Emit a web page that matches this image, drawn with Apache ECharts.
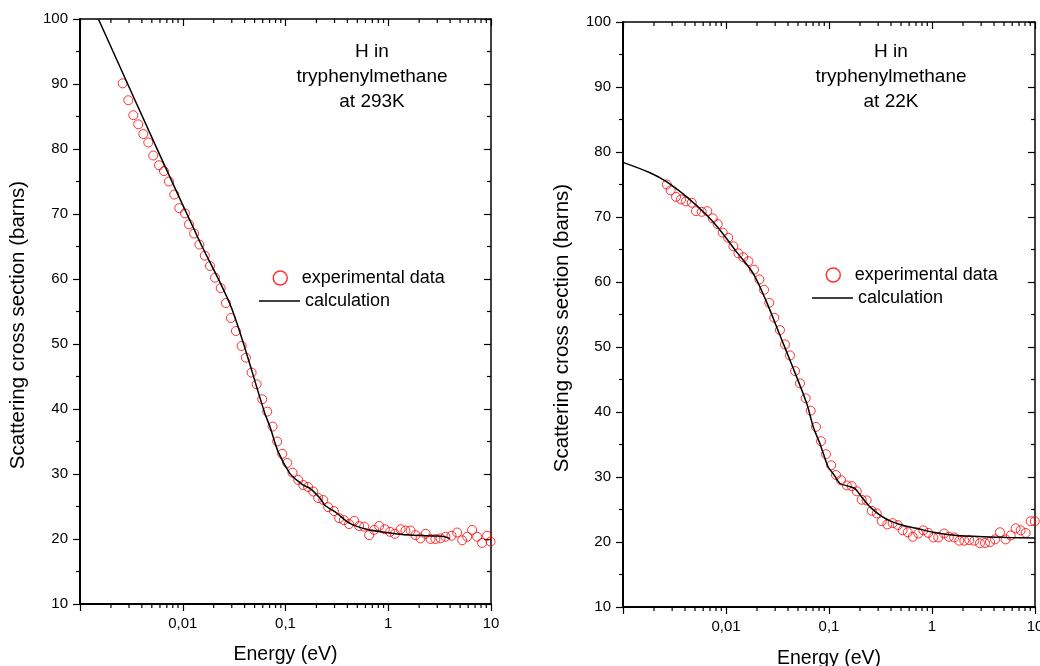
<!DOCTYPE html>
<html>
<head>
<meta charset="utf-8">
<script src="https://cdn.jsdelivr.net/npm/echarts@6/dist/echarts.min.js"></script>
<style>
html,body{margin:0;padding:0;background:#fff;}
#chart{width:1040px;height:666px;}
</style>
</head>
<body>
<div id="chart"></div>
<script>
// ---- data ----
const xTickLabels = ['0,01', '0,1', '1', '10'];
const yTicks = [10, 20, 30, 40, 50, 60, 70, 80, 90, 100];
const minorDecades = [0.001, 0.01, 0.1, 1];
const minorMults = [2, 3, 4, 5, 6, 7, 8, 9];

const leftTitle = 'H in\ntryphenylmethane\nat 293K';
const rightTitle = 'H in\ntryphenylmethane\nat 22K';

const leftExpE = [0.00260, 0.00295, 0.00330, 0.00369, 0.00413, 0.00462, 0.00516, 0.00587, 0.00656, 0.00734,
  0.00827, 0.00925, 0.0105, 0.0115, 0.0129, 0.0145, 0.0164, 0.0184, 0.0206, 0.0234,
  0.0263, 0.0294, 0.0329, 0.0374, 0.0412, 0.0468, 0.0524, 0.0594, 0.0664, 0.0749,
  0.0830, 0.0929, 0.104, 0.117, 0.133, 0.149, 0.166, 0.186, 0.208, 0.233,
  0.260, 0.296, 0.333, 0.370, 0.416, 0.466, 0.521, 0.583, 0.652, 0.729,
  0.816, 0.927, 1.04, 1.16, 1.32, 1.47, 1.65, 1.84, 2.06, 2.31,
  2.58, 2.88, 3.23, 3.61, 4.13, 4.68, 5.24, 5.86, 6.55, 7.33,
  8.19, 9.16, 9.9];
const leftExpS = [90.1, 87.5, 85.2, 83.8, 82.3, 81.0, 79.0, 77.5, 76.6, 75.0,
  73.0, 70.9, 70.1, 68.4, 67.0, 65.3, 63.6, 62.0, 60.2, 58.6,
  56.3, 54.0, 52.0, 49.7, 47.9, 45.6, 43.8, 41.5, 39.6, 37.3,
  35.0, 33.1, 31.7, 30.2, 29.1, 28.3, 28.0, 27.3, 26.3, 26.0,
  24.9, 24.3, 23.2, 22.9, 22.3, 22.8, 22.0, 21.9, 20.6, 21.4,
  22.0, 21.5, 21.1, 20.8, 21.5, 21.3, 21.3, 20.6, 20.1, 20.8,
  20.0, 20.0, 20.1, 20.35, 20.5, 21.0, 19.8, 20.35, 21.4, 20.35,
  19.4, 20.5, 19.6];

const leftCalcE = [0.00151, 0.00578, 0.0147, 0.0299, 0.0630, 0.0705, 0.0849, 0.110, 0.128, 0.149,
  0.173, 0.216, 0.242, 0.314, 0.423, 0.615, 0.962, 1.62, 2.95, 3.55, 3.98];
const leftCalcS = [100, 79.6, 65.7, 55.5, 39.3, 37.3, 33.4, 30.1, 29.1, 28.3,
  27.8, 26.3, 25.2, 24.0, 22.4, 21.5, 21.0, 20.6, 20.46, 20.35, 20.05];

const rightExpE = [0.00266, 0.00290, 0.00327, 0.00366, 0.00409, 0.00465, 0.00511, 0.00581, 0.00658, 0.00743,
  0.00831, 0.00929, 0.0105, 0.0118, 0.0132, 0.0147, 0.0165, 0.0187, 0.0211, 0.0234,
  0.0263, 0.0294, 0.0334, 0.0374, 0.0418, 0.0468, 0.0523, 0.0594, 0.0664, 0.0748,
  0.0836, 0.0935, 0.105, 0.117, 0.131, 0.149, 0.166, 0.186, 0.208, 0.232,
  0.260, 0.291, 0.325, 0.368, 0.415, 0.465, 0.519, 0.581, 0.650, 0.736,
  0.823, 0.920, 1.03, 1.15, 1.31, 1.46, 1.64, 1.84, 2.06, 2.30,
  2.58, 2.92, 3.27, 3.66, 4.09, 4.57, 5.19, 5.81, 6.49, 7.26,
  8.12, 9.08, 9.95];
const rightExpS = [75.0, 74.1, 73.1, 72.7, 72.4, 72.2, 70.9, 70.8, 70.9, 69.8,
  68.9, 67.6, 66.8, 65.5, 64.4, 63.8, 63.2, 61.9, 60.4, 58.8,
  56.8, 54.5, 52.6, 50.4, 48.7, 46.3, 44.4, 42.1, 40.2, 37.7,
  35.5, 33.5, 31.8, 30.3, 29.5, 28.7, 28.6, 27.8, 26.5, 26.4,
  24.8, 24.4, 23.2, 22.7, 22.9, 22.6, 21.8, 21.5, 20.8, 21.3,
  21.8, 21.4, 20.7, 20.7, 21.3, 20.8, 20.7, 20.2, 20.2, 20.3,
  20.2, 19.8, 19.85, 20.0, 20.4, 21.5, 20.4, 21.0, 22.1, 21.8,
  21.4, 23.2, 23.2];

const rightCalcE = [0.001, 0.00183, 0.00266, 0.00415, 0.00649, 0.00874, 0.0127, 0.0184, 0.0248, 0.0334,
  0.0450, 0.0608, 0.0704, 0.0818, 0.0881, 0.0985, 0.110, 0.128, 0.154, 0.179,
  0.208, 0.250, 0.337, 0.489, 0.710, 1.03, 1.74, 3.15, 5.31, 10];
const rightCalcS = [78.4, 76.8, 75.4, 73.1, 70.3, 68.0, 64.6, 61.3, 56.9, 51.8,
  46.7, 41.3, 37.7, 35.1, 33.6, 31.5, 30.5, 29.0, 28.6, 28.2,
  26.9, 25.4, 23.8, 22.7, 22.1, 21.5, 21.0, 20.8, 20.7, 20.6];

// ---- build ----
const zip = (a, b) => a.map((v, i) => [v, b[i]]);
const minorVals = [];
minorDecades.forEach(d => minorMults.forEach(m => minorVals.push([+(d * m).toPrecision(3), yTicks[0]])));

const FONT = 'Liberation Sans, Arial, sans-serif';
const xLabelMap = { '0.01': xTickLabels[0], '0.1': xTickLabels[1], '1': xTickLabels[2], '10': xTickLabels[3] };
function xFmt(v) {
  const k = String(parseFloat(Number(v).toPrecision(3)));
  return xLabelMap[k] !== undefined ? xLabelMap[k] : '';
}

const grids = [
  { left: 80, top: 19, width: 411, height: 585, containLabel: false, outerBoundsMode: 'none' },
  { left: 623, top: 22, width: 412, height: 585, containLabel: false, outerBoundsMode: 'none' }
];

const xAxes = [], yAxes = [];
grids.forEach((g, gi) => {
  xAxes.push({
    type: 'log', logBase: 10, min: 0.001, max: 10, gridIndex: gi, position: 'bottom',
    name: 'Energy (eV)', nameLocation: 'middle', nameGap: gi === 0 ? 41 : 42,
    nameTextStyle: { fontFamily: FONT, fontSize: 19.5, color: '#000' },
    axisLine: { show: true, onZero: false, lineStyle: { color: '#000', width: 2 } },
    axisTick: { show: true, inside: false, length: 7, lineStyle: { color: '#000', width: 1.2 } },
    axisLabel: { show: true, margin: 12, formatter: xFmt, fontFamily: FONT, fontSize: 15, color: '#000' },
    splitLine: { show: false }
  });
  xAxes.push({
    type: 'log', logBase: 10, min: 0.001, max: 10, gridIndex: gi, position: 'top',
    axisLine: { show: true, onZero: false, lineStyle: { color: '#000', width: 1.5 } },
    axisTick: { show: true, inside: true, length: 7, lineStyle: { color: '#000', width: 1.2 } },
    axisLabel: { show: false },
    splitLine: { show: false }
  });
  yAxes.push({
    type: 'value', min: 10, max: 100, interval: 10, gridIndex: gi, position: 'left',
    name: 'Scattering cross section (barns)', nameLocation: 'middle', nameGap: gi === 0 ? 51 : 50,
    nameTextStyle: { fontFamily: FONT, fontSize: 20.5, color: '#000', padding: [0, 27, 0, 0] },
    axisLine: { show: true, onZero: false, lineStyle: { color: '#000', width: 2 } },
    axisTick: { show: true, inside: false, length: 7, lineStyle: { color: '#000', width: 1.2 } },
    minorTick: { show: true, splitNumber: 2, length: 4, lineStyle: { color: '#000', width: 1.2 } },
    axisLabel: { show: true, margin: 12, fontFamily: FONT, fontSize: 15, color: '#000' },
    splitLine: { show: false }
  });
  yAxes.push({
    type: 'value', min: 10, max: 100, interval: 10, gridIndex: gi, position: 'right',
    axisLine: { show: true, onZero: false, lineStyle: { color: '#000', width: 1.5 } },
    axisTick: { show: true, inside: true, length: 7, lineStyle: { color: '#000', width: 1.2 } },
    minorTick: { show: true, splitNumber: 2, length: 4, lineStyle: { color: '#000', width: 1.2 } },
    axisLabel: { show: false },
    splitLine: { show: false }
  });
});

function minorTickSeries(gi) {
  return {
    type: 'custom', xAxisIndex: gi * 2, yAxisIndex: gi * 2, silent: true, clip: false, z: 5,
    data: minorVals,
    renderItem: function (params, api) {
      const v = api.value(0);
      const pb = api.coord([v, yTicks[0]]);
      const pt = api.coord([v, yTicks[yTicks.length - 1]]);
      return {
        type: 'group',
        children: [
          { type: 'line', shape: { x1: pb[0], y1: pb[1], x2: pb[0], y2: pb[1] + 4 }, style: { stroke: '#000', lineWidth: 1.2 } },
          { type: 'line', shape: { x1: pt[0], y1: pt[1], x2: pt[0], y2: pt[1] + 4 }, style: { stroke: '#000', lineWidth: 1.2 } }
        ]
      };
    }
  };
}

function expSeries(gi, data) {
  return {
    name: 'experimental data', type: 'scatter', xAxisIndex: gi * 2, yAxisIndex: gi * 2,
    symbol: 'circle', symbolSize: 9, data: data, z: 3,
    itemStyle: { color: 'rgba(255,255,255,0)', borderColor: '#ff0000', borderWidth: 1 }
  };
}
function calcSeries(gi, data) {
  return {
    name: 'calculation', type: 'line', xAxisIndex: gi * 2, yAxisIndex: gi * 2,
    showSymbol: false, symbol: 'none', smooth: 0.3, data: data, z: 4,
    lineStyle: { color: '#000', width: 1.5 }, itemStyle: { color: '#000' }
  };
}

function legendExp(left, top) {
  return {
    left: left, top: top, padding: 0, itemWidth: 33, itemHeight: 14, selectedMode: false,
    textStyle: { fontFamily: FONT, fontSize: 18, color: '#000' },
    data: [{ name: 'experimental data', icon: 'circle', itemStyle: { color: '#fff', borderColor: '#ff0000', borderWidth: 1.5 } }]
  };
}
function legendCalc(left, top) {
  return {
    left: left, top: top, padding: 0, itemWidth: 41, itemHeight: 1.5, selectedMode: false,
    textStyle: { fontFamily: FONT, fontSize: 18, color: '#000' },
    data: [{ name: 'calculation', icon: 'rect', itemStyle: { color: '#000', borderWidth: 0 } }]
  };
}

const option = {
  backgroundColor: '#fff',
  animation: false,
  grid: grids,
  xAxis: xAxes,
  yAxis: yAxes,
  legend: [legendExp(272.5, 269), legendCalc(259, 292), legendExp(825.5, 266), legendCalc(812, 289)],
  graphic: [
    { type: 'text', x: 372, y: 39, style: { text: leftTitle, textAlign: 'center', textVerticalAlign: 'top', fontFamily: FONT, fontSize: 19, lineHeight: 25, fill: '#000' } },
    { type: 'text', x: 891, y: 39, style: { text: rightTitle, textAlign: 'center', textVerticalAlign: 'top', fontFamily: FONT, fontSize: 19, lineHeight: 25, fill: '#000' } }
  ],
  series: [
    minorTickSeries(0), minorTickSeries(1),
    expSeries(0, zip(leftExpE, leftExpS)), calcSeries(0, zip(leftCalcE, leftCalcS)),
    expSeries(1, zip(rightExpE, rightExpS)), calcSeries(1, zip(rightCalcE, rightCalcS))
  ]
};

const chart = echarts.init(document.getElementById('chart'), null, { renderer: 'canvas' });
chart.setOption(option);
</script>
</body>
</html>
